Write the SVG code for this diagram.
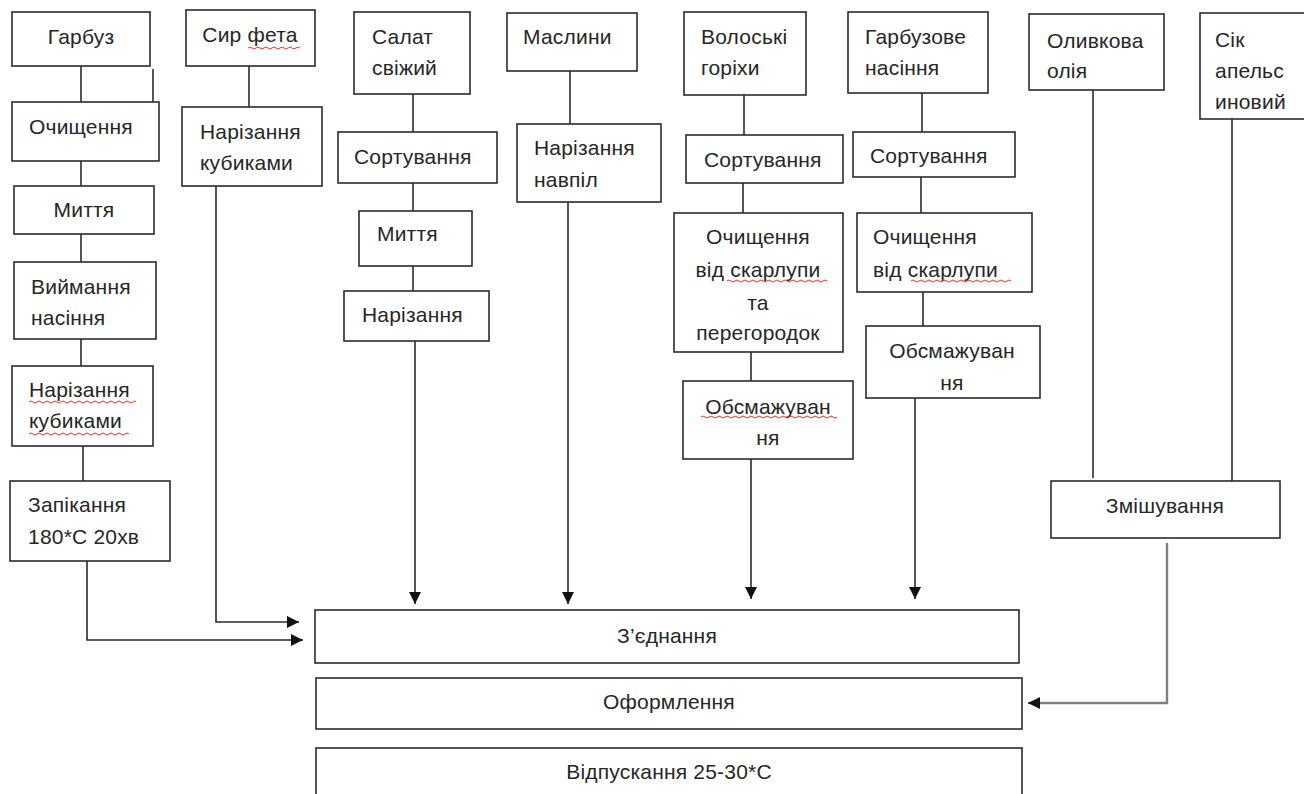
<svg xmlns="http://www.w3.org/2000/svg" width="1304" height="794" viewBox="0 0 1304 794">
<style>
.b{fill:#fff;stroke:#2b2b2b;stroke-width:1.6}
.t{font-family:"Liberation Sans",Arial,sans-serif;font-size:21px;letter-spacing:0.2px;fill:#262626}
.c{text-anchor:middle}
.l{fill:none;stroke:#2b2b2b;stroke-width:1.6}
.g{fill:none;stroke:#7f7f7f;stroke-width:2.4}
.w{fill:none;stroke:#e8302a;stroke-width:1}
</style>
<defs>
<marker id="ah" markerUnits="userSpaceOnUse" markerWidth="13" markerHeight="13" refX="12" refY="6" orient="auto" viewBox="0 0 13 12">
<path d="M0,0 L12,6 L0,12 z" fill="#111"/>
</marker>
</defs>
<rect width="1304" height="794" fill="#fff"/>
<g id="connectors">
<path class="l" d="M81,66 V102"/>
<path class="l" d="M153,69 V102"/>
<path class="l" d="M81,161 V186"/>
<path class="l" d="M81,234 V262"/>
<path class="l" d="M81,339 V366"/>
<path class="l" d="M83,446 V481"/>
<path class="l" d="M87,561 V640 H303" marker-end="url(#ah)"/>
<path class="l" d="M249,66 V107"/>
<path class="l" d="M216,186 V622 H299" marker-end="url(#ah)"/>
<path class="l" d="M413,94 V132"/>
<path class="l" d="M413,183 V211"/>
<path class="l" d="M413,266 V291"/>
<path class="l" d="M415,341 V604" marker-end="url(#ah)"/>
<path class="l" d="M570,71 V124"/>
<path class="l" d="M568,202 V604" marker-end="url(#ah)"/>
<path class="l" d="M744,95 V135"/>
<path class="l" d="M743,183 V213"/>
<path class="l" d="M751,352 V381"/>
<path class="l" d="M751,459 V599" marker-end="url(#ah)"/>
<path class="l" d="M922,93 V132"/>
<path class="l" d="M921,177 V213"/>
<path class="l" d="M923,292 V326"/>
<path class="l" d="M915,398 V599" marker-end="url(#ah)"/>
<path class="l" d="M1093,90 V478"/>
<path class="l" d="M1232,119 V481"/>
<path class="g" d="M1167,543 V703 H1030"/>
<path class="l" d="M1032,703 H1028" marker-end="url(#ah)"/>
</g>
<g id="n-garbuz"><rect class="b" x="12" y="12" width="138" height="54"/><text class="t c" x="81" y="44">Гарбуз</text></g>
<g id="n-ochyshchennia"><rect class="b" x="12" y="102" width="147" height="59"/><text class="t" x="29" y="134">Очищення</text></g>
<g id="n-myttia1"><rect class="b" x="14" y="186" width="140" height="48"/><text class="t c" x="84" y="217">Миття</text></g>
<g id="n-vyimannia"><rect class="b" x="14" y="262" width="142" height="77"/><text class="t" x="31" y="294">Виймання</text><text class="t" x="31" y="325">насіння</text></g>
<g id="n-narizannia-kub1"><rect class="b" x="12" y="366" width="141" height="80"/><text class="t" x="29" y="397">Нарізання</text><text class="t" x="29" y="428">кубиками</text>
<path class="w" d="M29,402 q2,-2 4,0 t4,0 t4,0 t4,0 t4,0 t4,0 t4,0 t4,0 t4,0 t4,0 t4,0 t4,0 t4,0 t4,0 t4,0 t4,0 t4,0 t4,0 t4,0 t4,0 t4,0 t4,0 t4,0 t4,0 t4,0 t4,0 t3,0"/>
<path class="w" d="M29,434 q2,-2 4,0 t4,0 t4,0 t4,0 t4,0 t4,0 t4,0 t4,0 t4,0 t4,0 t4,0 t4,0 t4,0 t4,0 t4,0 t4,0 t4,0 t4,0 t4,0 t4,0 t4,0 t4,0 t4,0 t4,0 t4,0"/></g>
<g id="n-zapikannia"><rect class="b" x="10" y="481" width="160" height="80"/><text class="t" x="28" y="512">Запікання</text><text class="t" x="28" y="544">180*С 20хв</text></g>
<g id="n-syr"><rect class="b" x="186" y="10" width="129" height="56"/><text class="t c" x="250" y="42">Сир фета</text>
<path class="w" d="M248,48 q2,-2 4,0 t4,0 t4,0 t4,0 t4,0 t4,0 t4,0 t4,0 t4,0 t4,0 t4,0 t4,0 t4,0"/></g>
<g id="n-narizannia-kub2"><rect class="b" x="182" y="107" width="140" height="79"/><text class="t" x="200" y="139">Нарізання</text><text class="t" x="200" y="170">кубиками</text></g>
<g id="n-salat"><rect class="b" x="354" y="12" width="116" height="82"/><text class="t" x="372" y="44">Салат</text><text class="t" x="372" y="75">свіжий</text></g>
<g id="n-sort1"><rect class="b" x="338" y="132" width="159" height="51"/><text class="t" x="354" y="164">Сортування</text></g>
<g id="n-myttia2"><rect class="b" x="359" y="211" width="113" height="55"/><text class="t" x="377" y="241">Миття</text></g>
<g id="n-narizannia"><rect class="b" x="344" y="291" width="145" height="50"/><text class="t" x="362" y="322">Нарізання</text></g>
<g id="n-maslyny"><rect class="b" x="507" y="13" width="130" height="58"/><text class="t" x="523" y="44">Маслини</text></g>
<g id="n-navpil"><rect class="b" x="517" y="124" width="144" height="78"/><text class="t" x="534" y="155">Нарізання</text><text class="t" x="534" y="187">навпіл</text></g>
<g id="n-voloski"><rect class="b" x="684" y="12" width="122" height="83"/><text class="t" x="701" y="44">Волоські</text><text class="t" x="701" y="75">горіхи</text></g>
<g id="n-sort2"><rect class="b" x="686" y="135" width="157" height="48"/><text class="t" x="704" y="167">Сортування</text></g>
<g id="n-ochysh2"><rect class="b" x="674" y="213" width="169" height="139"/><text class="t c" x="758" y="244">Очищення</text><text class="t c" x="758" y="277">від скарлупи</text><text class="t c" x="758" y="310">та</text><text class="t c" x="758" y="340">перегородок</text>
<path class="w" d="M727,281 q2,-2 4,0 t4,0 t4,0 t4,0 t4,0 t4,0 t4,0 t4,0 t4,0 t4,0 t4,0 t4,0 t4,0 t4,0 t4,0 t4,0 t4,0 t4,0 t4,0 t4,0 t4,0 t4,0 t4,0 t4,0 t4,0"/></g>
<g id="n-obsm1"><rect class="b" x="683" y="381" width="170" height="78"/><text class="t c" x="768" y="414">Обсмажуван</text><text class="t c" x="768" y="445">ня</text>
<path class="w" d="M701,417 q2,-2 4,0 t4,0 t4,0 t4,0 t4,0 t4,0 t4,0 t4,0 t4,0 t4,0 t4,0 t4,0 t4,0 t4,0 t4,0 t4,0 t4,0 t4,0 t4,0 t4,0 t4,0 t4,0 t4,0 t4,0 t4,0 t4,0 t4,0 t4,0 t4,0 t4,0 t4,0 t4,0 t4,0 t4,0"/></g>
<g id="n-garb-nasinnia"><rect class="b" x="848" y="12" width="140" height="81"/><text class="t" x="865" y="44">Гарбузове</text><text class="t" x="865" y="75">насіння</text></g>
<g id="n-sort3"><rect class="b" x="853" y="132" width="162" height="45"/><text class="t" x="870" y="163">Сортування</text></g>
<g id="n-ochysh3"><rect class="b" x="857" y="213" width="175" height="79"/><text class="t" x="873" y="244">Очищення</text><text class="t" x="873" y="277">від скарлупи</text>
<path class="w" d="M911,281 q2,-2 4,0 t4,0 t4,0 t4,0 t4,0 t4,0 t4,0 t4,0 t4,0 t4,0 t4,0 t4,0 t4,0 t4,0 t4,0 t4,0 t4,0 t4,0 t4,0 t4,0 t4,0 t4,0 t4,0 t4,0 t4,0"/></g>
<g id="n-obsm2"><rect class="b" x="866" y="326" width="174" height="72"/><text class="t c" x="952" y="358">Обсмажуван</text><text class="t c" x="952" y="390">ня</text></g>
<g id="n-oliia"><rect class="b" x="1029" y="14" width="135" height="76"/><text class="t" x="1047" y="48">Оливкова</text><text class="t" x="1047" y="78">олія</text></g>
<g id="n-sik"><rect class="b" x="1200" y="13" width="110" height="106"/><text class="t" x="1215" y="47">Сік</text><text class="t" x="1215" y="78">апельс</text><text class="t" x="1215" y="109">иновий</text></g>
<g id="n-zmishuvannia"><rect class="b" x="1051" y="481" width="229" height="57"/><text class="t c" x="1165" y="513">Змішування</text></g>
<g id="n-zyednannia"><rect class="b" x="315" y="610" width="704" height="53"/><text class="t c" x="667" y="643">З’єднання</text></g>
<g id="n-oformlennia"><rect class="b" x="316" y="678" width="706" height="51"/><text class="t c" x="669" y="709">Оформлення</text></g>
<g id="n-vidpuskannia"><rect class="b" x="316" y="748" width="706" height="60"/><text class="t c" x="669" y="779">Відпускання 25-30*С</text></g>
</svg>
